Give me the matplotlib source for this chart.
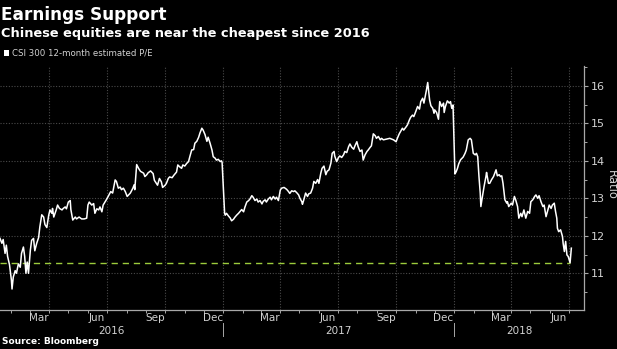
import matplotlib
matplotlib.use("Agg")
import matplotlib.pyplot as plt
import matplotlib.dates as mdates
from matplotlib.patches import Rectangle
from matplotlib.transforms import blended_transform_factory
import pandas as pd
import numpy as np

# CSI 300 12-month estimated P/E, read per calendar year (MM-DD, value)
dates_2016 = ["01-14", "01-17", "01-19", "01-22", "01-24", "01-26", "01-29", "02-01", "02-02", "02-04",
              "02-07", "02-09", "02-12", "02-15", "02-17", "02-20", "02-22", "02-24", "02-26", "02-28",
              "03-02", "03-04", "03-07", "03-09", "03-12", "03-15", "03-17", "03-20", "03-23", "03-25",
              "03-28", "03-31", "04-02", "04-05", "04-06", "04-08", "04-12", "04-14", "04-17", "04-21",
              "04-23", "04-26", "04-28", "05-01", "05-04", "05-05", "05-08", "05-12", "05-14", "05-18",
              "05-22", "05-26", "05-30", "06-01", "06-03", "06-07", "06-10", "06-12", "06-15", "06-18",
              "06-20", "06-23", "06-25", "06-30", "07-03", "07-07", "07-10", "07-14", "07-16", "07-19",
              "07-22", "07-24", "07-27", "07-30", "08-02", "08-07", "08-11", "08-13", "08-14", "08-17",
              "08-20", "08-23", "08-28", "08-30", "09-02", "09-04", "09-08", "09-12", "09-14", "09-17",
              "09-19", "09-22", "09-25", "09-27", "10-01", "10-03", "10-06", "10-08", "10-12", "10-15",
              "10-19", "10-21", "10-24", "10-27", "10-29", "11-01", "11-04", "11-07", "11-09", "11-12",
              "11-15", "11-17", "11-20", "11-23", "11-25", "11-28", "11-30", "12-03", "12-06", "12-08",
              "12-11", "12-14", "12-16", "12-19", "12-21", "12-24", "12-27", "12-29", "12-30"]
pe_2016 = [11.93, 11.80, 11.90, 11.53, 11.75, 11.45, 11.23, 10.82, 10.58, 10.90,
           11.07, 11.00, 11.25, 11.16, 11.53, 11.70, 11.45, 11.00, 11.30, 11.00,
           11.62, 11.88, 11.93, 11.60, 11.80, 11.95, 12.24, 12.56, 12.50, 12.30,
           12.22, 12.55, 12.69, 12.60, 12.73, 12.50, 12.70, 12.82, 12.73, 12.69,
           12.73, 12.77, 12.72, 12.90, 12.94, 12.70, 12.42, 12.50, 12.45, 12.50,
           12.45, 12.45, 12.47, 12.82, 12.90, 12.82, 12.86, 12.60, 12.72, 12.69,
           12.77, 12.64, 12.82, 12.96, 13.05, 13.18, 13.14, 13.49, 13.45, 13.27,
           13.30, 13.23, 13.27, 13.18, 13.05, 13.14, 13.27, 13.36, 13.23, 13.90,
           13.80, 13.72, 13.67, 13.58, 13.63, 13.68, 13.73, 13.66, 13.48, 13.40,
           13.35, 13.53, 13.44, 13.29, 13.35, 13.40, 13.53, 13.57, 13.55, 13.62,
           13.70, 13.89, 13.84, 13.80, 13.89, 13.86, 13.93, 13.98, 14.11, 14.29,
           14.30, 14.47, 14.52, 14.63, 14.74, 14.87, 14.82, 14.70, 14.52, 14.63,
           14.47, 14.29, 14.11, 14.07, 14.02, 14.04, 13.98, 14.00, 13.96]

dates_2017 = ["01-03", "01-04", "01-06", "01-09", "01-12", "01-14", "01-17", "01-19", "01-22", "01-25",
              "01-27", "01-30", "02-02", "02-04", "02-07", "02-10", "02-12", "02-15", "02-17", "02-20",
              "02-23", "02-25", "02-28", "03-03", "03-05", "03-08", "03-10", "03-13", "03-16", "03-18",
              "03-21", "03-24", "03-26", "03-29", "04-01", "04-03", "04-07", "04-11", "04-14", "04-16",
              "04-19", "04-22", "04-24", "04-27", "04-30", "05-02", "05-05", "05-06", "05-08", "05-11",
              "05-14", "05-16", "05-19", "05-22", "05-24", "05-27", "05-30", "06-01", "06-04", "06-06",
              "06-09", "06-12", "06-14", "06-17", "06-20", "06-22", "06-25", "06-26", "06-29", "07-02",
              "07-04", "07-07", "07-10", "07-12", "07-15", "07-18", "07-20", "07-23", "07-26", "07-28",
              "07-31", "08-02", "08-05", "08-08", "08-10", "08-13", "08-16", "08-18", "08-21", "08-23",
              "08-26", "08-29", "08-31", "09-03", "09-06", "09-08", "09-11", "09-16", "09-21", "09-27",
              "10-01", "10-03", "10-06", "10-08", "10-11", "10-13", "10-17", "10-19", "10-22", "10-24",
              "10-27", "10-29", "11-01", "11-04", "11-07", "11-09", "11-12", "11-14", "11-16", "11-18",
              "11-20", "11-23", "11-25", "11-28", "11-30", "12-01", "12-04", "12-07", "12-09", "12-12",
              "12-15", "12-16", "12-18", "12-21", "12-24", "12-26", "12-28", "12-30"]
pe_2017 = [12.60, 12.55, 12.60, 12.53, 12.47, 12.40, 12.44, 12.49, 12.55, 12.60,
           12.64, 12.70, 12.64, 12.76, 12.90, 12.94, 12.98, 13.07, 13.03, 12.94,
           12.98, 12.90, 12.94, 12.85, 12.92, 12.96, 12.90, 12.98, 13.03, 12.96,
           13.05, 12.98, 13.03, 12.94, 13.22, 13.27, 13.29, 13.24, 13.18, 13.13,
           13.20, 13.18, 13.20, 13.15, 13.09, 13.00, 12.91, 12.84, 12.95, 13.14,
           13.05, 13.12, 13.14, 13.27, 13.45, 13.40, 13.50, 13.40, 13.67, 13.80,
           13.86, 13.63, 13.72, 13.76, 13.94, 14.20, 14.25, 14.13, 13.98, 14.09,
           14.13, 14.09, 14.16, 14.25, 14.22, 14.38, 14.45, 14.36, 14.31, 14.40,
           14.51, 14.38, 14.25, 14.29, 14.02, 14.16, 14.25, 14.29, 14.36, 14.40,
           14.72, 14.67, 14.60, 14.65, 14.56, 14.60, 14.56, 14.58, 14.60, 14.56,
           14.51, 14.60, 14.72, 14.78, 14.87, 14.82, 14.91, 14.96, 15.09, 15.16,
           15.22, 15.18, 15.31, 15.45, 15.38, 15.58, 15.67, 15.54, 15.71, 15.89,
           16.09, 15.62, 15.47, 15.40, 15.27, 15.36, 15.29, 15.11, 15.58, 15.45,
           15.54, 15.29, 15.45, 15.60, 15.54, 15.58, 15.40, 15.49]

dates_2018 = ["01-02", "01-04", "01-06", "01-08", "01-11", "01-15", "01-18", "01-20", "01-23", "01-26",
              "01-28", "01-31", "02-03", "02-05", "02-07", "02-09", "02-11", "02-12", "02-14", "02-17",
              "02-20", "02-21", "02-24", "02-26", "03-01", "03-04", "03-06", "03-08", "03-10", "03-13",
              "03-15", "03-17", "03-19", "03-22", "03-25", "03-26", "03-28", "04-01", "04-03", "04-06",
              "04-08", "04-11", "04-13", "04-16", "04-18", "04-21", "04-24", "04-27", "04-30", "05-02",
              "05-05", "05-08", "05-10", "05-13", "05-15", "05-18", "05-21", "05-23", "05-26", "05-29",
              "05-31", "06-03", "06-05", "06-08", "06-10", "06-12", "06-13", "06-15", "06-18", "06-21",
              "06-22", "06-24", "06-26", "06-28", "06-30", "07-03", "07-05"]
pe_2018 = [13.65, 13.71, 13.80, 13.92, 14.03, 14.10, 14.20, 14.29, 14.56, 14.60,
           14.56, 14.20, 14.16, 14.20, 14.11, 13.58, 13.14, 12.78, 13.00, 13.31,
           13.58, 13.69, 13.40, 13.40, 13.50, 13.58, 13.67, 13.76, 13.60, 13.63,
           13.58, 13.60, 13.40, 12.96, 12.87, 12.91, 12.78, 12.87, 12.82, 13.05,
           12.96, 12.78, 12.47, 12.60, 12.51, 12.69, 12.47, 12.65, 12.60, 12.91,
           12.96, 13.05, 13.09, 13.00, 13.07, 12.91, 12.78, 12.82, 12.51, 12.69,
           12.82, 12.73, 12.82, 12.87, 12.65, 12.47, 12.20, 12.11, 12.16, 11.98,
           11.80, 11.58, 11.85, 11.49, 11.45, 11.28, 11.67]

support_level = 11.28          # latest low, the cheapest close since early 2016
month_labels = ["Mar", "Jun", "Sep", "Dec"]
year_labels = ["2016", "2017", "2018"]
y_ticks = [11, 12, 13, 14, 15, 16]

title = "Earnings Support"
subtitle = "Chinese equities are near the cheapest since 2016"
legend_label = "CSI 300 12-month estimated P/E"
source = "Source: Bloomberg"

dates = pd.to_datetime(["2016-" + d for d in dates_2016] +
                       ["2017-" + d for d in dates_2017] +
                       ["2018-" + d for d in dates_2018])
pe = np.array(pe_2016 + pe_2017 + pe_2018)

x_start = pd.Timestamp("2016-01-14")
x_end = pd.Timestamp("2018-07-25")

BG = "#000000"
FG = "#ffffff"
TICK = "#d2d2d2"
GRID = "#4a4a4a"
SPINE = "#a8a8a8"
GREEN = "#9ccc3c"

W, H = 617, 349
fig = plt.figure(figsize=(W / 100, H / 100), dpi=100, facecolor=BG)
ax = fig.add_axes([0, 1 - 310 / H, 584 / W, (310 - 66) / H], facecolor=BG)

ax.plot(dates, pe, color=FG, lw=1.1, zorder=3)

# dashed support line runs up to the day the latest low was hit
low_date = dates[np.where(np.isclose(pe, support_level))[0][-1]]
ax.plot([x_start, low_date], [support_level, support_level], color=GREEN,
        lw=1.0, ls=(0, (4.5, 3.5)), zorder=2)

ax.set_xlim(x_start, x_end)
ax.set_ylim(10.02, 16.53)

# spines
for s in ("left", "top"):
    ax.spines[s].set_visible(False)
for s in ("bottom", "right"):
    ax.spines[s].set_color(SPINE)
    ax.spines[s].set_linewidth(0.9)

# y axis on the right
ax.yaxis.tick_right()
ax.set_yticks(y_ticks)
ax.set_yticks(np.arange(10.5, 16.6, 1.0), minor=True)
ax.tick_params(axis="y", which="major", colors=SPINE, labelcolor=TICK, length=3,
               width=0.8, labelsize=8, pad=2)
ax.tick_params(axis="y", which="minor", colors=SPINE, length=2, width=0.7)
fig.text(611 / W, 1 - 185 / H, "Ratio", color=TICK, fontsize=8.3, rotation=270,
         ha="center", va="center")

# x axis: quarter gridlines, monthly ticks
ax.xaxis.set_major_locator(mdates.MonthLocator(bymonth=[1, 4, 7, 10]))
ax.xaxis.set_minor_locator(mdates.MonthLocator())
ax.xaxis.set_major_formatter(plt.NullFormatter())
ax.tick_params(axis="x", which="both", colors=SPINE, length=2.5, width=0.7)

ax.grid(True, which="major", axis="both", color=GRID, ls=(0, (1, 1.5)), lw=0.8)

xtr = blended_transform_factory(ax.transData, ax.transAxes)
label_months = {"Mar": 3, "Jun": 6, "Sep": 9, "Dec": 12}
for yr in (2016, 2017, 2018):
    for m in month_labels:
        d = pd.Timestamp(yr, label_months[m], 15)
        if x_start <= d <= x_end:
            ax.text(mdates.date2num(d), -0.014, m, transform=xtr, ha="center", va="top",
                    color=TICK, fontsize=7.5)

for yl in year_labels:
    y0 = max(pd.Timestamp(int(yl), 1, 1), x_start)
    y1 = min(pd.Timestamp(int(yl) + 1, 1, 1), x_end)
    mid = y0 + (y1 - y0) / 2
    ax.text(mdates.date2num(mid), -0.064, yl, transform=xtr, ha="center", va="top",
            color=TICK, fontsize=7.5)

for yr in (2017, 2018):
    xd = mdates.date2num(pd.Timestamp(yr, 1, 1))
    ax.plot([xd, xd], [-0.053, -0.107], transform=xtr, color=SPINE, lw=0.7, clip_on=False)

# headings
fig.text(1 / W, 1 - 19.5 / H, title, color=FG, fontsize=12.2, fontweight="bold", va="baseline")
fig.text(1 / W, 1 - 36.5 / H, subtitle, color=FG, fontsize=9.3, fontweight="bold", va="baseline")
fig.patches.append(Rectangle((4 / W, 1 - 55.5 / H), 5.3 / W, 5.3 / H, transform=fig.transFigure,
                             facecolor=FG, edgecolor="none"))
fig.text(11.5 / W, 1 - 56 / H, legend_label, color=TICK, fontsize=6.2, va="baseline")
fig.text(2 / W, 1 - 344.5 / H, source, color=FG, fontsize=6.5, fontweight="bold", va="baseline")

fig.savefig("out.png", dpi=100, facecolor=BG)
